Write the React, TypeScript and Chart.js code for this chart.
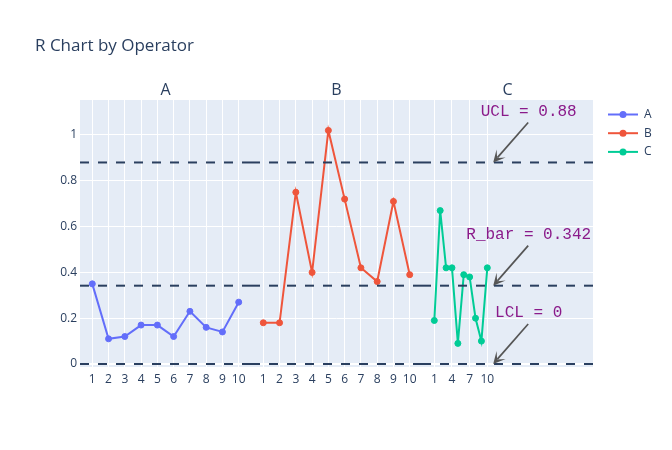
import { useEffect, useRef } from 'react';
import { Chart, registerables } from 'chart.js';

Chart.register(...registerables);

// ---------- data ----------
const TITLE = 'R Chart by Operator';
const OPERATORS = ['A', 'B', 'C'];
const SAMPLES = ['1', '2', '3', '4', '5', '6', '7', '8', '9', '10'];
const C_TICK_LABELS = ['1', '4', '7', '10'];
const RANGES_A = [0.35, 0.11, 0.12, 0.17, 0.17, 0.12, 0.23, 0.16, 0.14, 0.27];
const RANGES_B = [0.18, 0.18, 0.75, 0.4, 1.02, 0.72, 0.42, 0.36, 0.71, 0.39];
const RANGES_C = [0.19, 0.67, 0.42, 0.42, 0.09, 0.39, 0.38, 0.2, 0.1, 0.42];
const Y_TICKS = [0, 0.2, 0.4, 0.6, 0.8, 1];
const Y_TICK_LABELS = ['0', '0.2', '0.4', '0.6', '0.8', '1'];
const UCL = 0.88;
const R_BAR = 0.342;
const LCL = 0;
const LIMITS = [UCL, R_BAR, LCL];
const LIMIT_LABELS = ['UCL = 0.88', 'R_bar = 0.342', 'LCL = 0'];
const ANNOT_X = 11; // annotation anchor on operator C's axis

// ---------- style ----------
const COLORS = ['#636EFA', '#EF553B', '#00CC96'];
const FONT = '"Open Sans", verdana, arial, sans-serif';
const TEXT = '#2a3f5f';
const X_IDS = ['xA', 'xB', 'xC'];

const series = [RANGES_A, RANGES_B, RANGES_C];

const facetPlugin = {
  id: 'facetPlugin',
  beforeDraw(chart: any) {
    const { ctx, chartArea: a } = chart;
    ctx.save();
    ctx.fillStyle = '#ffffff';
    ctx.fillRect(0, 0, chart.width, chart.height);
    ctx.fillStyle = '#E5ECF6';
    ctx.fillRect(a.left, a.top, a.right - a.left, a.bottom - a.top);
    ctx.restore();
  },
  afterDatasetsDraw(chart: any) {
    const { ctx } = chart;
    const y = chart.scales.y;
    ctx.save();
    // control limit lines per facet
    ctx.strokeStyle = TEXT;
    ctx.lineWidth = 2;
    ctx.setLineDash([9, 9]);
    X_IDS.forEach((id) => {
      const xs = chart.scales[id];
      LIMITS.forEach((v) => {
        const py = y.getPixelForValue(v);
        ctx.beginPath();
        ctx.lineDashOffset = 0;
        ctx.moveTo(xs.left, py);
        ctx.lineTo(xs.right, py);
        ctx.stroke();
      });
    });
    ctx.setLineDash([]);
    // annotations with arrows
    const xc = chart.scales.xC;
    LIMITS.forEach((v, i) => {
      const tx = xc.getPixelForValue(ANNOT_X);
      const ty = y.getPixelForValue(v);
      const sx = tx + 35;
      const sy = ty - 40;
      const ang = Math.atan2(ty - sy, tx - sx);
      const s = 2;
      ctx.strokeStyle = '#555';
      ctx.fillStyle = '#555';
      ctx.lineWidth = 1.7;
      ctx.beginPath();
      ctx.moveTo(sx, sy);
      ctx.lineTo(tx - Math.cos(ang) * 3.2 * s, ty - Math.sin(ang) * 3.2 * s);
      ctx.stroke();
      ctx.save();
      ctx.translate(tx, ty);
      ctx.rotate(ang);
      ctx.beginPath();
      ctx.moveTo(0, 0);
      ctx.lineTo(-6 * s, -3 * s);
      ctx.lineTo(-3.2 * s, -0.2 * s);
      ctx.lineTo(-3.2 * s, 0.2 * s);
      ctx.lineTo(-6 * s, 3 * s);
      ctx.closePath();
      ctx.fill();
      ctx.restore();
      ctx.fillStyle = '#8a1a8a';
      ctx.font = '16px "Liberation Mono", "Courier New", monospace';
      ctx.textAlign = 'center';
      ctx.textBaseline = 'middle';
      ctx.fillText(LIMIT_LABELS[i], sx + 0.5, sy - 11);
    });
    ctx.restore();
  },
  afterDraw(chart: any) {
    const { ctx, chartArea: a } = chart;
    ctx.save();
    // title
    ctx.fillStyle = TEXT;
    ctx.font = `17px ${FONT}`;
    ctx.textAlign = 'left';
    ctx.textBaseline = 'alphabetic';
    ctx.fillText(TITLE, 35, 51);
    // facet titles
    ctx.font = `16px ${FONT}`;
    ctx.textAlign = 'center';
    X_IDS.forEach((id, i) => {
      const xs = chart.scales[id];
      ctx.fillText(OPERATORS[i], (xs.left + xs.right) / 2, a.top - 5);
    });
    // legend
    const lx = a.right + 15;
    ctx.font = `12px ${FONT}`;
    ctx.textAlign = 'left';
    ctx.textBaseline = 'middle';
    chart.data.datasets.forEach((ds: any, i: number) => {
      const ly = a.top + 14.5 + i * 18.7;
      ctx.strokeStyle = ds.borderColor;
      ctx.lineWidth = 2;
      ctx.beginPath();
      ctx.moveTo(lx, ly);
      ctx.lineTo(lx + 30, ly);
      ctx.stroke();
      ctx.fillStyle = ds.borderColor;
      ctx.beginPath();
      ctx.arc(lx + 15, ly, 3.5, 0, Math.PI * 2);
      ctx.fill();
      ctx.fillStyle = TEXT;
      ctx.fillText(ds.label, lx + 36, ly);
    });
    ctx.restore();
  },
};

function xAxis(min: number, max: number, labels: string[]) {
  return {
    type: 'linear' as const,
    position: 'bottom' as const,
    stack: 'facets',
    stackWeight: 1,
    min,
    max,
    bounds: 'data' as const,
    afterBuildTicks: (scale: any) => {
      scale.ticks = labels.map((l) => ({ value: Number(l) }));
    },
    afterFit: (scale: any) => {
      scale.height = 30;
    },
    grid: { color: '#ffffff', lineWidth: 1, drawTicks: false },
    border: { display: false },
    ticks: {
      autoSkip: false,
      maxRotation: 0,
      padding: 5,
      color: TEXT,
      font: { family: FONT, size: 12 },
      callback: (_v: any, i: number) => labels[i],
    },
  };
}

export default function App() {
  const ref = useRef<HTMLCanvasElement>(null);
  useEffect(() => {
    const chart = new Chart(ref.current as HTMLCanvasElement, {
      type: 'line',
      data: {
        datasets: OPERATORS.map((op, k) => ({
          label: op,
          xAxisID: X_IDS[k],
          yAxisID: 'y',
          data: SAMPLES.map((s, i) => ({ x: Number(s), y: series[k][i] })),
          borderColor: COLORS[k],
          backgroundColor: COLORS[k],
          borderWidth: 2,
          pointRadius: 3,
          pointBorderWidth: 1,
          pointBackgroundColor: COLORS[k],
          pointBorderColor: COLORS[k],
          tension: 0,
          fill: false,
        })),
      },
      options: {
        responsive: false,
        animation: false,
        devicePixelRatio: 1,
        events: [],
        layout: { padding: { top: 100, right: 79, bottom: 53, left: 0 } },
        plugins: { legend: { display: false }, tooltip: { enabled: false }, title: { display: false } },
        scales: {
          xA: xAxis(0.245, 10.755, SAMPLES),
          xB: xAxis(0.245, 10.755, SAMPLES),
          xC: xAxis(-1.09, 27.95, C_TICK_LABELS),
          y: {
            type: 'linear',
            position: 'left',
            min: -0.0131,
            max: 1.1528,
            afterBuildTicks: (scale: any) => {
              scale.ticks = Y_TICKS.map((v) => ({ value: v }));
            },
            afterFit: (scale: any) => {
              scale.width = 80;
            },
            grid: {
              color: '#ffffff',
              lineWidth: (c: any) => (c.tick && c.tick.value === 0 ? 2 : 1),
              drawTicks: false,
            },
            border: { display: false },
            ticks: {
              padding: 3,
              color: TEXT,
              font: { family: FONT, size: 12 },
              callback: (_v: any, i: number) => Y_TICK_LABELS[i],
            },
          },
        },
      },
      plugins: [facetPlugin],
    } as any);
    return () => chart.destroy();
  }, []);
  return (
    <div style={{ position: 'absolute', left: 0, top: 0, width: 672, height: 450, background: '#fff' }}>
      <canvas ref={ref} width={672} height={450} style={{ display: 'block', width: 672, height: 450 }} />
    </div>
  );
}
